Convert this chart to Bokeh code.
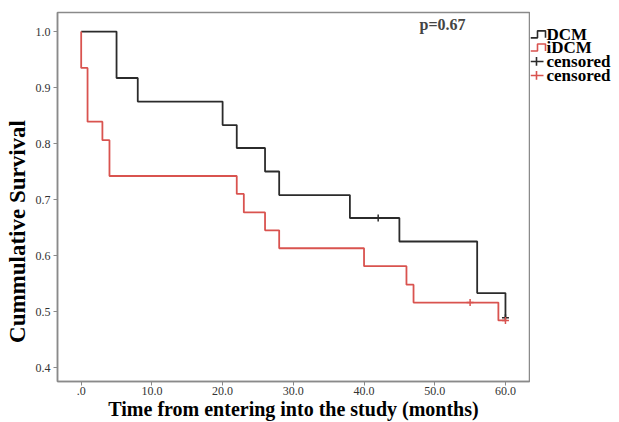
from bokeh.plotting import figure
from bokeh.layouts import row
from bokeh.models import Range1d, FixedTicker, Label
from bokeh.core.properties import value
from bokeh.embed import file_html
from bokeh.resources import INLINE

# DCM group (black)
dcm_time = [0, 5, 8, 20, 22, 26, 28, 38, 45, 56, 60]
dcm_surv = [1.0, 0.917, 0.875, 0.833, 0.792, 0.750, 0.708, 0.667, 0.625, 0.533, 0.489]
dcm_cens_time = [42, 60]
dcm_cens_surv = [0.667, 0.489]

# iDCM group (red)
idcm_time = [0, 0, 0.9, 3, 4, 22, 23, 26, 28, 40, 46, 47, 59, 60]
idcm_surv = [1.0, 0.935, 0.839, 0.806, 0.742, 0.710, 0.677, 0.645, 0.613, 0.581, 0.548, 0.516, 0.484, 0.484]
idcm_cens_time = [55, 60]
idcm_cens_surv = [0.516, 0.484]

x_ticks = [0, 10, 20, 30, 40, 50, 60]
x_tick_labels = [".0", "10.0", "20.0", "30.0", "40.0", "50.0", "60.0"]
y_ticks = [0.4, 0.5, 0.6, 0.7, 0.8, 0.9, 1.0]
y_tick_labels = ["0.4", "0.5", "0.6", "0.7", "0.8", "0.9", "1.0"]

legend_labels = ["DCM", "iDCM", "censored", "censored"]

BLACK = "#2b2b2b"
RED = "#d9534f"
SERIF = "Liberation Serif"

p = figure(width=530, height=422, output_backend="svg", toolbar_location=None,
           x_range=Range1d(-3.35, 63.4), y_range=Range1d(0.375, 1.034),
           min_border_left=57, min_border_right=1, min_border_top=12, min_border_bottom=37)
p.background_fill_color = "white"
p.border_fill_color = "white"
p.outline_line_color = "#8a8a8a"
p.outline_line_width = 1.5
p.xgrid.visible = False
p.ygrid.visible = False

p.step(dcm_time, dcm_surv, mode="after", line_color=BLACK, line_width=1.8)
p.step(idcm_time, idcm_surv, mode="after", line_color=RED, line_width=1.8)
p.scatter(dcm_cens_time, dcm_cens_surv, marker="cross", size=7, line_color=BLACK, line_width=1.5)
p.scatter(idcm_cens_time, idcm_cens_surv, marker="cross", size=7, line_color=RED, line_width=1.5)

for ax in (p.xaxis[0], p.yaxis[0]):
    ax.axis_line_color = "#8a8a8a"
    ax.axis_line_width = 1.5
    ax.major_tick_line_color = "#8a8a8a"
    ax.major_tick_out = 4
    ax.major_tick_in = 0
    ax.minor_tick_line_color = None
    ax.major_label_text_font = SERIF
    ax.major_label_text_font_size = "12px"
    ax.major_label_text_color = "#333333"
    ax.major_label_text_line_height = 1.0
    ax.axis_label_text_font = SERIF
    ax.axis_label_text_font_style = "bold"
    ax.axis_label_text_color = "black"
    ax.axis_label_text_line_height = 1.0

p.xaxis.ticker = FixedTicker(ticks=x_ticks)
p.xaxis.major_label_overrides = {t: l for t, l in zip(x_ticks, x_tick_labels)}
p.yaxis.ticker = FixedTicker(ticks=y_ticks)
p.yaxis.major_label_overrides = {t: l for t, l in zip(y_ticks, y_tick_labels)}
p.xaxis.axis_label = "Time from entering into the study (months)"
p.xaxis.axis_label_text_font_size = "20px"
p.xaxis.axis_label_standoff = 0
p.xaxis.major_label_standoff = 1
p.yaxis.axis_label = "Cummulative Survival" + "\u00a0" * 12
p.yaxis.axis_label_text_font_size = "23px"
p.yaxis.axis_label_standoff = 3
p.yaxis.major_label_standoff = 3

p.add_layout(Label(x=51.1, y=1.012, text="p=0.67", text_font=SERIF, text_font_style="bold",
                   text_font_size="16px", text_align="center", text_baseline="middle"))

# legend panel (pixel coordinates of the page, to the right of the frame)
q = figure(width=89, height=422, output_backend="svg", toolbar_location=None,
           x_range=Range1d(530, 619), y_range=Range1d(422, 0),
           x_axis_type=None, y_axis_type=None,
           min_border_left=0, min_border_right=0, min_border_top=0, min_border_bottom=0)
q.outline_line_color = None
q.xgrid.visible = False
q.ygrid.visible = False
q.background_fill_color = "white"
q.border_fill_color = "white"

rows_y = [25, 40, 56, 72]
colors = [BLACK, RED, BLACK, RED]
# step symbols for the two curves
for yc, c in zip(rows_y[:2], colors[:2]):
    q.line([530, 537, 537, 545, 545], [yc + 4, yc + 4, yc - 4, yc - 4, yc + 4], line_color=c, line_width=1.6)
# plus symbols for censored
for yc, c in zip(rows_y[2:], colors[2:]):
    q.line([530, 543], [yc, yc], line_color=c, line_width=1.6)
    q.line([536, 536], [yc - 5, yc + 5], line_color=c, line_width=1.6)
q.text(x=[546] * 4, y=rows_y, text=legend_labels, text_font=value(SERIF), text_font_style="bold",
       text_font_size="17px", text_baseline="middle", text_align="left", text_color="black")

open("out.html", "w").write(file_html(row(p, q), INLINE))
